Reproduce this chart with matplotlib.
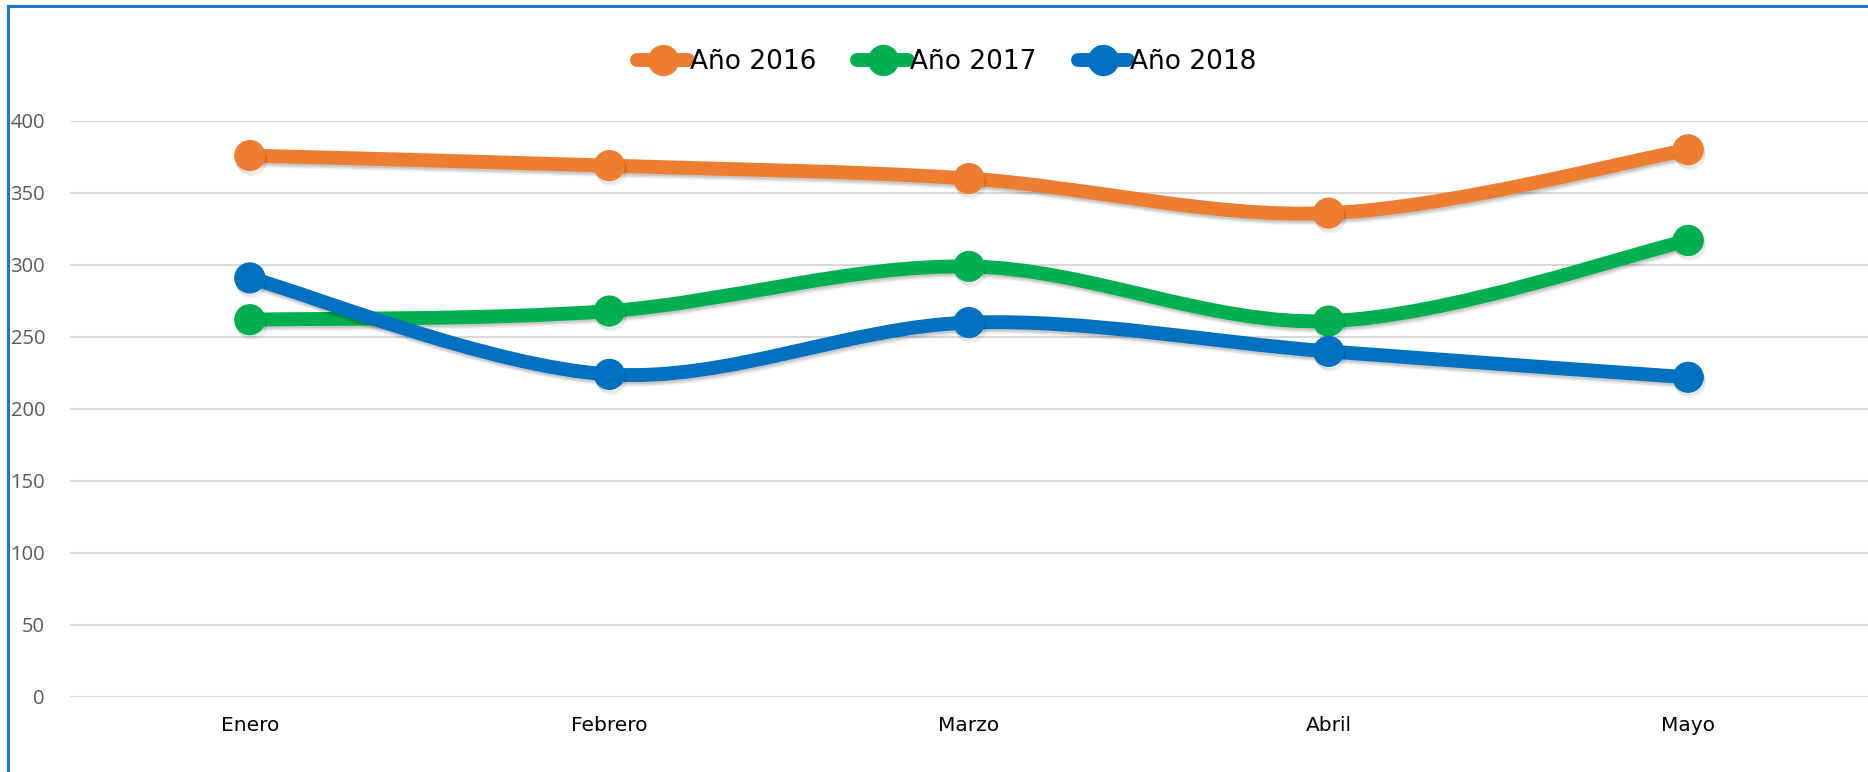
import matplotlib
matplotlib.use("Agg")
import matplotlib.pyplot as plt
import matplotlib.patheffects as pe
from matplotlib.path import Path
from matplotlib.patches import PathPatch
from matplotlib.lines import Line2D
import numpy as np

# data
meses = ["Enero", "Febrero", "Marzo", "Abril", "Mayo"]
serie_2016 = [376, 369, 360, 336, 380]
serie_2017 = [262, 268, 299, 261, 317]
serie_2018 = [291, 224, 260, 240, 222]
nombres = ["Año 2016", "Año 2017", "Año 2018"]
colores = ["#ED7D31", "#00B050", "#0070C0"]

narrow = ["Liberation Sans Narrow", "DejaVu Sans"]
plain = ["Open Sans", "DejaVu Sans"]

W, H = 1868, 772
fig = plt.figure(figsize=(W / 100, H / 100), dpi=100)
ax = fig.add_axes([70 / W, 1 - 697 / H, 1 - 70 / W, (697 - 121) / H])

x = np.arange(len(meses))


def smooth_path(xs, ys):
    # excel-style smoothed line: bezier segments through each point
    pts = list(zip(xs, ys))
    verts = [pts[0]]
    codes = [Path.MOVETO]
    n = len(pts)
    for i in range(n - 1):
        p0 = np.array(pts[max(i - 1, 0)], float)
        p1 = np.array(pts[i], float)
        p2 = np.array(pts[i + 1], float)
        p3 = np.array(pts[min(i + 2, n - 1)], float)
        c1 = p1 + (p2 - p0) / 6.0
        c2 = p2 - (p3 - p1) / 6.0
        verts += [tuple(c1), tuple(c2), tuple(p2)]
        codes += [Path.CURVE4] * 3
    return Path(verts, codes)


# soft drop shadow, built from a few faint offset copies
shadow = [pe.SimpleLineShadow(offset=(0.5, -1.5), shadow_color="black", alpha=0.10),
          pe.SimpleLineShadow(offset=(1, -2.5), shadow_color="black", alpha=0.08),
          pe.SimpleLineShadow(offset=(1.5, -3.5), shadow_color="black", alpha=0.05),
          pe.Normal()]

LW, MS = 10, 21.5
for vals, col in zip([serie_2016, serie_2017, serie_2018], colores):
    patch = PathPatch(smooth_path(x, vals), fill=False, edgecolor=col, lw=LW,
                      capstyle="round", joinstyle="round", zorder=3)
    patch.set_path_effects(shadow)
    ax.add_patch(patch)
    ax.plot(x, vals, "o", color=col, ms=MS, mec=col, zorder=4, path_effects=shadow)

ax.set_xlim(-0.5, len(meses) - 0.5)
ax.set_ylim(0, 400)
ax.set_yticks(range(0, 401, 50))
ax.set_xticks(x)
ax.set_xticklabels(meses, fontsize=14.5, family=narrow, color="black")
for lab in ax.get_yticklabels():
    lab.set_fontsize(14.5)
    lab.set_family(plain)
    lab.set_color("#595959")
ax.tick_params(axis="both", length=0)
ax.tick_params(axis="y", pad=18)
ax.tick_params(axis="x", pad=14)
ax.grid(axis="y", color="#D9D9D9", lw=1.5)
ax.set_axisbelow(True)
for s in ax.spines.values():
    s.set_visible(False)

handles = [Line2D([0], [0], color=c, lw=LW, marker="o", ms=MS, solid_capstyle="round")
           for c in colores]
fig.legend(handles, nombres, loc="center", bbox_to_anchor=(0.507, 1 - 62 / H), ncol=3,
           frameon=False, prop={"family": narrow, "size": 19}, handlelength=1.9,
           handletextpad=0.1, columnspacing=1.55)

# blue frame along the top and left edge of the screenshot
fig.add_artist(Line2D([8 / W, 1], [1 - 6 / H, 1 - 6 / H], color="#1F78D0", lw=2.2))
fig.add_artist(Line2D([8 / W, 8 / W], [0, 1 - 6 / H], color="#1F78D0", lw=2.2))

fig.savefig("out.png", dpi=100)
